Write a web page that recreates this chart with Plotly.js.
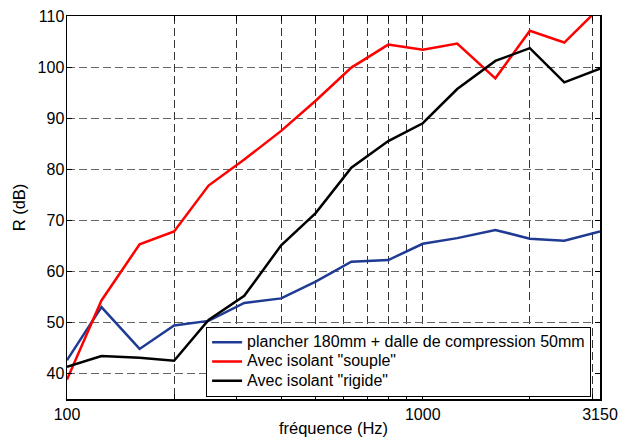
<!DOCTYPE html>
<html>
<head>
<meta charset="utf-8">
<script src="https://cdn.plot.ly/plotly-3.0.1.min.js"></script>
<style>html,body{margin:0;padding:0;background:#fff;}#chart{width:631px;height:437px;}</style>
</head>
<body>
<div id="chart"></div>
<script>
const freqs = [100,125,160,200,250,315,400,500,630,800,1000,1250,1600,2000,2500,3150];
const plancher = [42.6,53.0,44.8,49.4,50.3,53.8,54.7,58.0,61.9,62.2,65.4,66.5,68.1,66.4,66.0,67.8];
const souple = [38.8,54.3,65.3,67.8,76.8,81.9,87.5,93.4,99.9,104.4,103.4,104.6,97.8,107.1,104.8,111.7];
const rigide = [41.3,43.4,43.1,42.5,50.5,55.2,65.1,71.4,80.3,85.5,89.0,95.7,101.2,103.7,97.0,99.7];
const names = ['plancher 180mm + dalle de compression 50mm','Avec isolant "souple"','Avec isolant "rigide"'];
const xTickVals = [100,200,300,400,500,600,700,800,900,1000,2000,3000,3150];
const xTickText = ['100','','','','','','','','','1000','','','3150'];
const yTickVals = [40,50,60,70,80,90,100,110];

const fam = 'Liberation Sans, Arial, sans-serif';
const font = {family:fam, size:16, color:'#000'};
const big = s => '<span style="font-size:16px">' + s + '</span>';
const traces = [
  {x:freqs, y:plancher, name:big(names[0]), mode:'lines', line:{color:'#1f3a93', width:2.5}},
  {x:freqs, y:souple, name:big(names[1]), mode:'lines', line:{color:'#ff0000', width:2.5}},
  {x:freqs, y:rigide, name:big(names[2]), mode:'lines', line:{color:'#000000', width:2.5}}
];
const layout = {
  width:631, height:437,
  margin:{l:67, r:31, t:16, b:38},
  paper_bgcolor:'#fff', plot_bgcolor:'#fff',
  font:font,
  showlegend:true,
  legend:{x:0.261, y:0.006, xanchor:'left', yanchor:'bottom', bgcolor:'#fff',
          bordercolor:'#000', borderwidth:1, font:{family:fam, size:12.5, color:'#000'},
          tracegroupgap:0},
  xaxis:{type:'log', range:[Math.log10(100), Math.log10(3150)],
         tickvals:xTickVals, ticktext:xTickText, ticks:'inside', ticklen:5, tickcolor:'#000',
         showline:true, linecolor:'#000', linewidth:1.5, mirror:'ticks',
         showgrid:true, gridcolor:'#333', gridwidth:1, griddash:'8px,4px',
         zeroline:false, tickfont:{family:fam, size:16},
         title:{text:'fréquence (Hz)', font:{family:fam, size:16.5}, standoff:3}},
  yaxis:{range:[35,110], tickvals:yTickVals, ticks:'inside', ticklen:5, tickcolor:'#000',
         showline:true, linecolor:'#000', linewidth:1.5, mirror:'ticks',
         showgrid:true, gridcolor:'#666', gridwidth:1, griddash:'8px,4px',
         zeroline:false, tickfont:{family:fam, size:16}, ticklabelstandoff:-2,
         title:{text:'R (dB)', font:{family:fam, size:16.5}, standoff:8}}
};
Plotly.newPlot('chart', traces, layout, {displayModeBar:false, staticPlot:true});
</script>
</body>
</html>
